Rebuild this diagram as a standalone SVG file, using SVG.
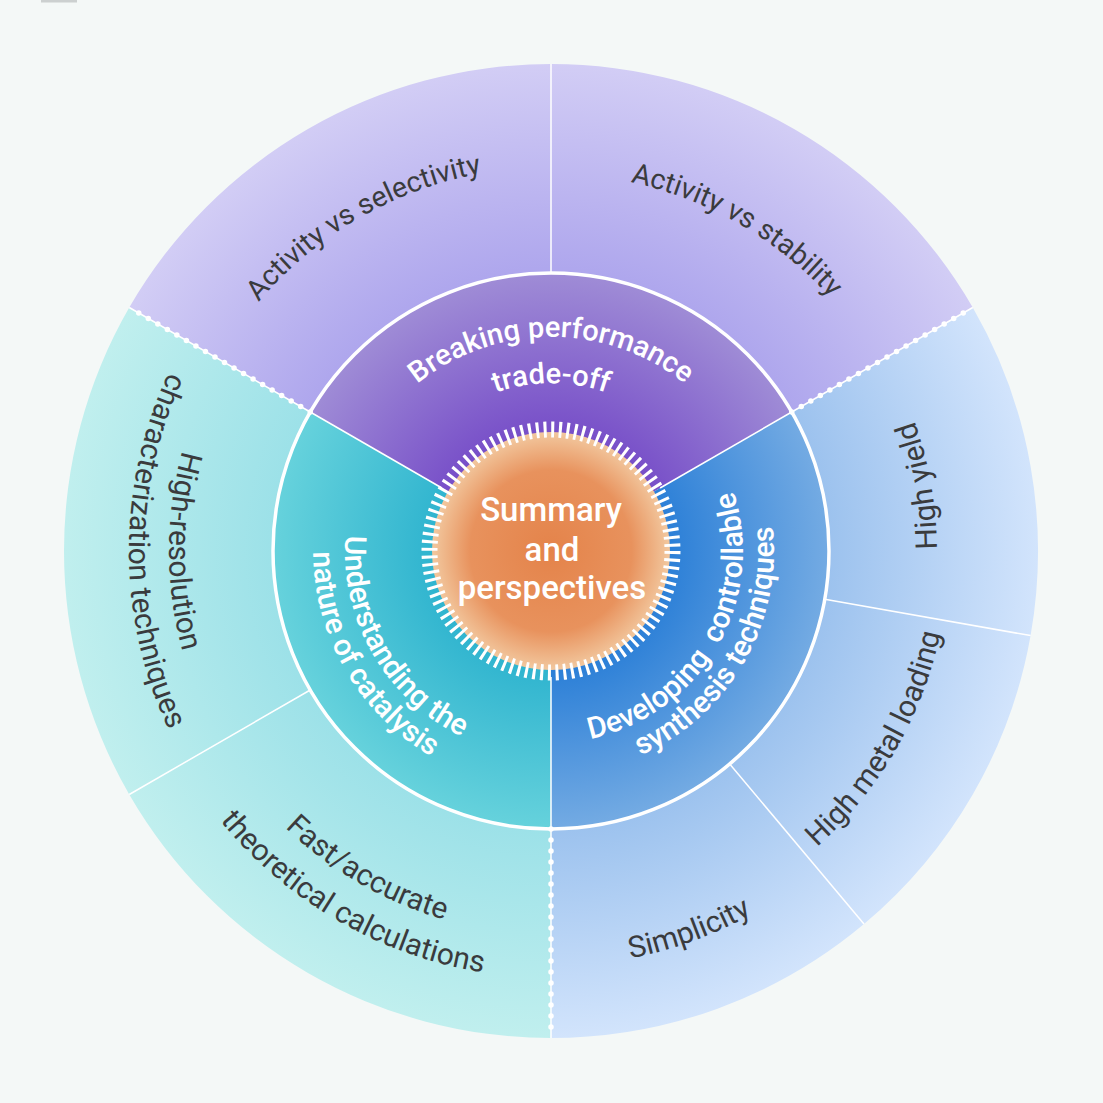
<svg xmlns="http://www.w3.org/2000/svg" xmlns:xlink="http://www.w3.org/1999/xlink" width="1103" height="1103" viewBox="0 0 1103 1103">
<style>
.outer{font-family:Roboto,"Liberation Sans",sans-serif;font-size:30px;fill:#3a3b3d;}
.outer.top{font-size:28.5px;}
.mid{font-family:Roboto,"Liberation Sans",sans-serif;font-size:30px;font-weight:500;fill:#ffffff;}
.mid.brk{font-size:29px;}
.ctr{font-family:Roboto,"Liberation Sans",sans-serif;font-size:33px;font-weight:500;fill:#ffffff;text-anchor:middle;}
.sep{stroke:#ffffff;stroke-width:1.5;fill:none;}
.dotline{stroke:#ffffff;stroke-width:1.5;fill:none;}
.dots{stroke:#ffffff;stroke-width:5.5;stroke-linecap:round;stroke-dasharray:0 11;fill:none;}
</style>
<defs>
<radialGradient id="gOP" gradientUnits="userSpaceOnUse" cx="551" cy="551" r="487"><stop offset="0.57" stop-color="#aea6ed"/><stop offset="1" stop-color="#d2cdf5"/></radialGradient>
<radialGradient id="gOB" gradientUnits="userSpaceOnUse" cx="551" cy="551" r="487"><stop offset="0.57" stop-color="#9cc2ee"/><stop offset="1" stop-color="#d2e4fc"/></radialGradient>
<radialGradient id="gOT" gradientUnits="userSpaceOnUse" cx="551" cy="551" r="487"><stop offset="0.57" stop-color="#9ce1e8"/><stop offset="1" stop-color="#c0efee"/></radialGradient>
<radialGradient id="gMP" gradientUnits="userSpaceOnUse" cx="551" cy="551" r="278"><stop offset="0.42" stop-color="#774ec8"/><stop offset="1" stop-color="#9f8cd6"/></radialGradient>
<radialGradient id="gMB" gradientUnits="userSpaceOnUse" cx="551" cy="551" r="278"><stop offset="0.42" stop-color="#2b7fd7"/><stop offset="1" stop-color="#74abe3"/></radialGradient>
<radialGradient id="gMT" gradientUnits="userSpaceOnUse" cx="551" cy="551" r="278"><stop offset="0.42" stop-color="#2fb4cf"/><stop offset="1" stop-color="#66d2dc"/></radialGradient>
<radialGradient id="gC" gradientUnits="userSpaceOnUse" cx="551" cy="551" r="119"><stop offset="0" stop-color="#e4834a"/><stop offset="0.68" stop-color="#e8925d"/><stop offset="1" stop-color="#f2c89f"/></radialGradient>
<path id="pActSel" d="M190.1,682.3 A384,384 0 0 1 845.2,304.2"/>
<path id="pActSta" d="M262.2,308.6 A377,377 0 0 1 905.3,680"/>
<path id="pBreak" d="M340.2,514 A214,214 0 0 1 761.8,514"/>
<path id="pTrade" d="M385.6,521.8 A168,168 0 0 1 716.4,521.8"/>
<path id="pUnd" d="M418.6,393.2 A206,206 0 0 0 621.5,744.6"/>
<path id="pNat" d="M398,368.7 A238,238 0 0 0 632.4,774.6"/>
<path id="pDev" d="M485.3,731.4 A192,192 0 0 0 674.4,403.9"/>
<path id="pSyn" d="M474.7,760.6 A223,223 0 0 0 694.3,380.2"/>
<path id="pYield" d="M683,913.7 A386,386 0 0 0 551,165"/>
<path id="pMetal" d="M414.9,925 A398,398 0 0 0 806.8,246.1"/>
<path id="pSimp" d="M191.6,758.5 A415,415 0 0 0 959.7,478.9"/>
<path id="pHR" d="M484.7,174.8 A382,382 0 0 0 484.7,927.2"/>
<path id="pChar" d="M477.7,135.4 A422,422 0 0 0 477.7,966.6"/>
<path id="pFast" d="M190.2,419.7 A384,384 0 0 0 845.1,797.8"/>
<path id="pTheo" d="M149.8,405 A427,427 0 0 0 878.1,825.5"/>
</defs>
<rect x="0" y="0" width="1103" height="1103" fill="#f4f8f7"/>
<rect x="41" y="0" width="36" height="2.5" fill="#ccd0d0"/>

<g id="node-activity-selectivity">
<path d="M129.25,307.5 A487,487 0 0 1 551,64 L551,273 A278,278 0 0 0 310.24,412 Z" fill="url(#gOP)"/>
<text class="outer top"><textPath xlink:href="#pActSel" href="#pActSel" startOffset="50%" text-anchor="middle">Activity vs selectivity</textPath></text>
</g>
<g id="node-activity-stability">
<path d="M551,64 A487,487 0 0 1 972.75,307.5 L791.76,412 A278,278 0 0 0 551,273 Z" fill="url(#gOP)"/>
<text class="outer top"><textPath xlink:href="#pActSta" href="#pActSta" startOffset="50%" text-anchor="middle">Activity vs stability</textPath></text>
</g>
<g id="node-high-yield">
<path d="M972.75,307.5 A487,487 0 0 1 1030.6,635.6 L824.78,599.27 A278,278 0 0 0 791.76,412 Z" fill="url(#gOB)"/>
<text class="outer"><textPath xlink:href="#pYield" href="#pYield" startOffset="50%" text-anchor="middle">High yield</textPath></text>
</g>
<g id="node-high-metal-loading">
<path d="M1030.6,635.6 A487,487 0 0 1 864,924.1 L729.7,763.96 A278,278 0 0 0 824.78,599.27 Z" fill="url(#gOB)"/>
<text class="outer"><textPath xlink:href="#pMetal" href="#pMetal" startOffset="50%" text-anchor="middle">High metal loading</textPath></text>
</g>
<g id="node-simplicity">
<path d="M864,924.1 A487,487 0 0 1 551,1038 L551,829 A278,278 0 0 0 729.7,763.96 Z" fill="url(#gOB)"/>
<text class="outer"><textPath xlink:href="#pSimp" href="#pSimp" startOffset="50%" text-anchor="middle">Simplicity</textPath></text>
</g>
<g id="node-calculations">
<path d="M551,1038 A487,487 0 0 1 129.25,794.5 L310.24,690 A278,278 0 0 0 551,829 Z" fill="url(#gOT)"/>
<text class="outer"><textPath xlink:href="#pFast" href="#pFast" startOffset="50%" text-anchor="middle">Fast/accurate</textPath></text>
<text class="outer"><textPath xlink:href="#pTheo" href="#pTheo" startOffset="50%" text-anchor="middle">theoretical calculations</textPath></text>
</g>
<g id="node-characterization">
<path d="M129.25,794.5 A487,487 0 0 1 129.25,307.5 L310.24,412 A278,278 0 0 0 310.24,690 Z" fill="url(#gOT)"/>
<text class="outer"><textPath xlink:href="#pHR" href="#pHR" startOffset="50%" text-anchor="middle">High-resolution</textPath></text>
<text class="outer"><textPath xlink:href="#pChar" href="#pChar" startOffset="50%" text-anchor="middle">characterization techniques</textPath></text>
</g>

<g id="node-breaking-tradeoff">
<path d="M551,551 L310.24,412 A278,278 0 0 1 791.76,412 Z" fill="url(#gMP)"/>
<text class="mid brk"><textPath xlink:href="#pBreak" href="#pBreak" startOffset="50%" text-anchor="middle">Breaking performance</textPath></text>
<text class="mid brk"><textPath xlink:href="#pTrade" href="#pTrade" startOffset="50%" text-anchor="middle">trade-off</textPath></text>
</g>
<g id="node-synthesis">
<path d="M551,551 L791.76,412 A278,278 0 0 1 551,829 Z" fill="url(#gMB)"/>
<text class="mid" xml:space="preserve"><textPath xlink:href="#pDev" href="#pDev" startOffset="50%" text-anchor="middle">Developing  controllable</textPath></text>
<text class="mid"><textPath xlink:href="#pSyn" href="#pSyn" startOffset="50%" text-anchor="middle">synthesis techniques</textPath></text>
</g>
<g id="node-catalysis">
<path d="M551,551 L551,829 A278,278 0 0 1 310.24,412 Z" fill="url(#gMT)"/>
<text class="mid"><textPath xlink:href="#pUnd" href="#pUnd" startOffset="50%" text-anchor="middle">Understanding the</textPath></text>
<text class="mid"><textPath xlink:href="#pNat" href="#pNat" startOffset="50%" text-anchor="middle">nature of catalysis</textPath></text>
</g>

<g id="connectors">
<circle cx="551" cy="551" r="278" fill="none" stroke="#ffffff" stroke-width="3.5"/>
<line class="sep" x1="551" y1="272" x2="551" y2="64"/>
<line class="sep" x1="824.78" y1="599.27" x2="1030.6" y2="635.6"/>
<line class="sep" x1="729.7" y1="763.96" x2="864" y2="924.1"/>
<line class="sep" x1="310.24" y1="690" x2="129.25" y2="794.5"/>
<line class="dotline" x1="310.24" y1="412" x2="129.25" y2="307.5"/>
<line class="dots" x1="310.24" y1="412" x2="129.25" y2="307.5"/>
<line class="dotline" x1="791.76" y1="412" x2="972.75" y2="307.5"/>
<line class="dots" x1="791.76" y1="412" x2="972.75" y2="307.5"/>
<line class="dotline" x1="551" y1="829" x2="551" y2="1038"/>
<line class="dots" x1="551" y1="829" x2="551" y2="1038"/>
<line class="sep" stroke-width="1.2" x1="441.9" y1="488" x2="310.24" y2="412"/>
<line class="sep" stroke-width="1.2" x1="660.1" y1="488" x2="791.76" y2="412"/>
<line class="sep" stroke-width="1" x1="551" y1="677" x2="551" y2="829"/>
</g>

<g id="node-summary">
<circle cx="551" cy="551" r="119" fill="url(#gC)"/>
<circle cx="551" cy="551" r="121.5" fill="none" stroke="#ffffff" stroke-width="16" stroke-dasharray="3 4.634"/>
<text class="ctr" x="551" y="521">Summary</text>
<text class="ctr" x="552" y="561">and</text>
<text class="ctr" x="552" y="599">perspectives</text>
</g>
</svg>
